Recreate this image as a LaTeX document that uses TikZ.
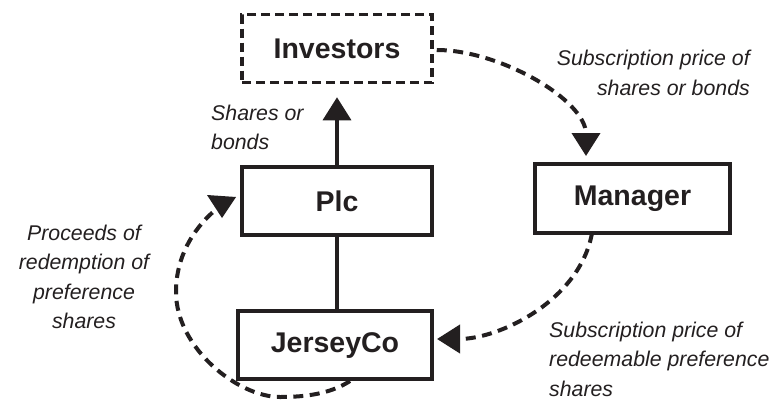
\documentclass[tikz,border=0pt]{standalone}
\usepackage{fontspec}
\setmainfont{Liberation Sans}
\usetikzlibrary{arrows.meta,calc}
\definecolor{ink}{RGB}{35,31,32}
\begin{document}
\begin{tikzpicture}[x=1pt,y=-1pt,
  box/.style={draw=ink, line width=3.5pt, minimum width=190pt, minimum height=68pt, inner sep=0pt,
    font=\fontsize{28.5}{34}\selectfont\bfseries, text=ink},
  dbox/.style={box, dash pattern=on 9pt off 5pt},
  flow/.style={draw=ink, line width=4pt, dash pattern=on 10pt off 6.5pt},
  tip/.style={-{Triangle[length=23pt,width=28pt]}},
  lbl/.style={font=\fontsize{21.3}{29.5}\selectfont\itshape, text=ink, inner sep=0pt}
]
\useasboundingbox (0,0) rectangle (771,400);

\node[dbox] (inv) at (337,48.5) {Investors};
\node[box] (plc) at (337,201) {Plc};
\node[box, minimum width=194pt] (jer) at (335,345) {JerseyCo};
\node[box, minimum width=195pt, minimum height=69pt] (man) at (632.5,198.5) {Manager};

\coordinate (manin) at (586,156);
\coordinate (manout) at (592,233);
\coordinate (jerin) at (437,339);
\coordinate (jerout) at (350,381);
\coordinate (plcin) at (213,212);

% Plc -> Investors
\draw[draw=ink, line width=3.5pt, tip, shorten >=13pt] (plc.north) -- (inv.south);
% Plc -- JerseyCo
\draw[draw=ink, line width=3.5pt] (plc.south) -- (jer.north -| plc.south);

% Investors -> Manager
\draw[flow, tip] ($(inv.east)+(3,1.5)$) .. controls (500,50) and (586,100) .. (manin);
% Manager -> JerseyCo
\draw[flow, tip] (manout) .. controls (580,300) and (500,339) .. (jerin);
% JerseyCo -> Plc
\draw[flow] (jerout) .. controls (330,394) and (305,397) .. (280,397)
  .. controls (238,397) and (176,348) .. (176,292)
  .. controls (176,256) and (194,229) .. (plcin);
\fill[ink] (207,195) -- (236,197) -- (222,218) -- cycle;

% labels
\node[lbl, anchor=east, align=right] (l1) at (750,73) {Subscription price of\\shares or bonds};
\node[lbl, anchor=west, align=left] (l2) at (211,127.5) {Shares or\\bonds};
\node[lbl, align=center] (l3) at (84,277) {Proceeds of\\redemption of\\preference\\shares};
\node[lbl, anchor=west, align=left] (l4) at (549,359) {Subscription price of\\redeemable preference\\shares};
\end{tikzpicture}
\end{document}
